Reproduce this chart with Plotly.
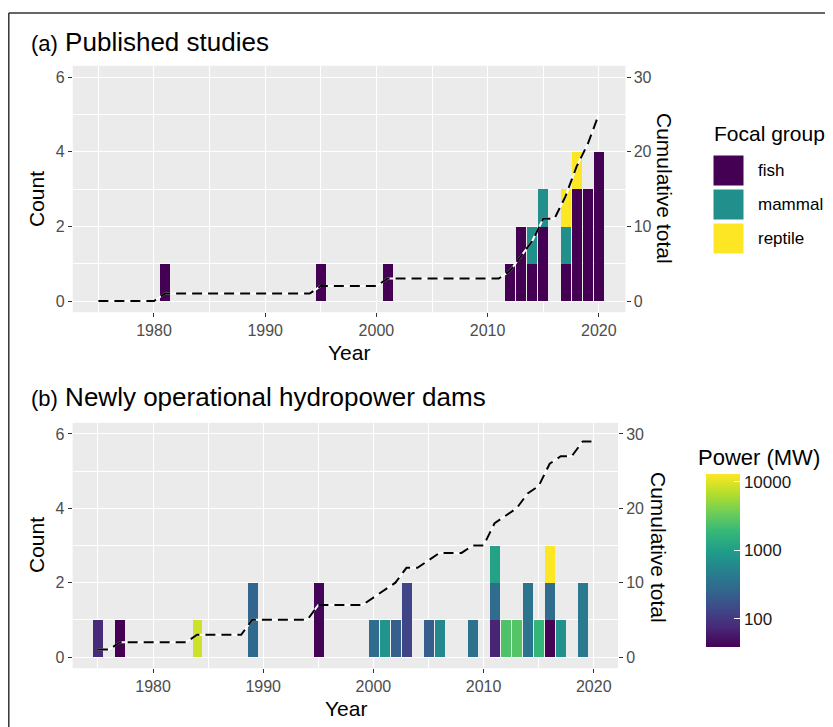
import numpy as np
import plotly.graph_objects as go

# ---------------- data ----------------
line_years = list(range(1975, 2021))

study_years = [1981, 1995, 2001, 2012, 2013, 2014, 2015, 2017, 2018, 2019, 2020]
fish =        [1,    1,    1,    1,    2,    1,    2,    1,    3,    3,    4]
mammal =      [0,    0,    0,    0,    0,    1,    1,    1,    0,    0,    0]
reptile =     [0,    0,    0,    0,    0,    0,    0,    1,    1,    0,    0]
group_names = ["fish", "mammal", "reptile"]
group_colors = ["#440154", "#21908C", "#FDE725"]

dam_years = [1975, 1977, 1984, 1989, 1989, 1995, 1995, 2000, 2001, 2002,
             2003, 2003, 2005, 2006, 2009, 2011, 2011, 2011, 2012, 2013,
             2014, 2014, 2015, 2016, 2016, 2016, 2017, 2019, 2019]
dam_power = [78, 39, 8370, 280, 260, 40, 42, 300, 800, 225,
             130, 130, 220, 600, 340, 70, 300, 1100, 2500, 2700,
             360, 360, 1800, 40, 300, 13000, 720, 420, 420]

x_ticks = [1980, 1990, 2000, 2010, 2020]
x_minor = [1975, 1985, 1995, 2005, 2015]
count_ticks = [0, 2, 4, 6]
cum_ticks = [0, 10, 20, 30]
power_ticks = [100, 1000, 10000]

# ---------------- geometry helpers ----------------
W, H = 833, 727
OFF = 8  # page offset of the figure inside the browser window
def px(x):
    return (x - OFF) / W
def py(y):
    return 1 - (y - OFF) / H

FONT = "Liberation Sans, Arial, sans-serif"
TICKC = "#4D4D4D"

fig = go.Figure()

# ---------------- panel a ----------------
totals_a = dict()
for y, f, m, r in zip(study_years, fish, mammal, reptile):
    totals_a[y] = f + m + r
cum_a = np.cumsum([totals_a.get(y, 0) for y in line_years])

for name, vals, col in zip(group_names, [fish, mammal, reptile], group_colors):
    fig.add_trace(go.Bar(x=study_years, y=vals, name=name, width=0.9,
                         marker=dict(color=col, line=dict(width=0)),
                         xaxis="x", yaxis="y", showlegend=False))

fig.add_trace(go.Scatter(x=line_years, y=cum_a, mode="lines",
                         line=dict(color="white", width=2),
                         xaxis="x", yaxis="y2", showlegend=False, hoverinfo="skip"))
fig.add_trace(go.Scatter(x=line_years, y=cum_a, mode="lines",
                         line=dict(color="black", width=2, dash="10px,6px"),
                         xaxis="x", yaxis="y2", showlegend=False))

# ---------------- panel b ----------------
logp = np.log10(dam_power)
cmin, cmax = float(logp.min()), float(logp.max())
by_year = {}
for y, p in zip(dam_years, dam_power):
    by_year.setdefault(y, []).append(p)
max_layers = max(len(v) for v in by_year.values())
for k in range(max_layers):
    xs, cs = [], []
    for y in sorted(by_year):
        if len(by_year[y]) > k:
            xs.append(y)
            cs.append(np.log10(by_year[y][k]))
    fig.add_trace(go.Bar(
        x=xs, y=[1] * len(xs), width=0.9, xaxis="x2", yaxis="y3", showlegend=False,
        marker=dict(color=cs, colorscale="Viridis", cmin=cmin, cmax=cmax,
                    line=dict(width=0),
                    showscale=(k == 0),
                    colorbar=dict(
                        x=px(706), xanchor="left", y=py(560.5), yanchor="middle",
                        lenmode="pixels", len=173, thickness=34, thicknessmode="pixels",
                        outlinewidth=0, xpad=0, ypad=0,
                        tickvals=list(np.log10(power_ticks)),
                        ticktext=[str(t) for t in power_ticks],
                        ticks="inside", ticklen=6, tickcolor="white", tickwidth=1,
                        tickfont=dict(family=FONT, size=17, color="#1A1A1A"),
                    ))))

cum_b = np.cumsum([len(by_year.get(y, [])) for y in line_years])
fig.add_trace(go.Scatter(x=line_years, y=cum_b, mode="lines",
                         line=dict(color="white", width=2),
                         xaxis="x2", yaxis="y4", showlegend=False, hoverinfo="skip"))
fig.add_trace(go.Scatter(x=line_years, y=cum_b, mode="lines",
                         line=dict(color="black", width=2, dash="10px,6px"),
                         xaxis="x2", yaxis="y4", showlegend=False))

# ---------------- axes ----------------
def xaxis(domain, anchor, right):
    return dict(domain=domain, anchor=anchor, range=[1972.7, right],
                tickvals=x_ticks, ticks="outside", ticklen=4, tickwidth=1, tickcolor="#333333",
                tickfont=dict(family=FONT, size=16, color=TICKC),
                showgrid=True, gridcolor="white", gridwidth=1.3, zeroline=False, showline=False,
                minor=dict(tickvals=x_minor, showgrid=True, gridcolor="white", gridwidth=0.6, ticks=""),
                automargin=False, fixedrange=True)

def yaxis(domain, anchor):
    return dict(domain=domain, anchor=anchor, range=[-0.3, 6.3], tickvals=count_ticks,
                ticks="outside", ticklen=4, tickwidth=1, tickcolor="#333333",
                tickfont=dict(family=FONT, size=16, color=TICKC),
                showgrid=True, gridcolor="white", gridwidth=1.3, zeroline=False, showline=False,
                minor=dict(tickvals=[1, 3, 5], showgrid=True, gridcolor="white", gridwidth=0.6, ticks=""),
                automargin=False, fixedrange=True)

def yaxis_right(overlay, anchor):
    return dict(overlaying=overlay, anchor=anchor, side="right", range=[-1.5, 31.5],
                tickvals=cum_ticks, ticks="outside", ticklen=4, tickwidth=1, tickcolor="#333333",
                tickfont=dict(family=FONT, size=16, color=TICKC),
                showgrid=False, zeroline=False, showline=False, automargin=False, fixedrange=True)

fig.update_layout(
    width=W, height=H, margin=dict(l=0, r=0, t=0, b=0),
    paper_bgcolor="white", plot_bgcolor="#EBEBEB",
    barmode="stack", bargap=0,
    font=dict(family=FONT, color="black"),
    xaxis=xaxis([px(72.8), px(625.5)], "y", 2022.4),
    yaxis=yaxis([py(312.2), py(65.8)], "x"),
    yaxis2=yaxis_right("y", "x"),
    xaxis2=xaxis([px(72.6), px(618.0)], "y3", 2022.2),
    yaxis3=yaxis([py(668.2), py(422.8)], "x2"),
    yaxis4=yaxis_right("y3", "x2"),
)

# ---------------- text ----------------
ann = []
def text(t, x, y, size, angle=0, xanchor="center", color="black"):
    ann.append(dict(text=t, x=px(x), y=py(y), xref="paper", yref="paper",
                    showarrow=False, textangle=angle, xanchor=xanchor, yanchor="middle",
                    font=dict(family=FONT, size=size, color=color)))

text("<span style='font-size:22px'>(a)</span> Published studies", 29, 42, 26, xanchor="left")
text("<span style='font-size:22px'>(b)</span> Newly operational hydropower dams", 29, 397, 26, xanchor="left")
text("Count", 36, 199, 21, angle=-90)
text("Count", 36, 545, 21, angle=-90)
text("Year", 349, 352, 21)
text("Year", 346, 708, 21)
text("Cumulative total", 664, 188, 21, angle=90)
text("Cumulative total", 659, 547, 21, angle=90)
text("Focal group", 712, 133, 21, xanchor="left")
text("Power (MW)", 696, 458, 22, xanchor="left")

shapes = []
key_tops = [155, 189, 223]
for name, col, top in zip(group_names, group_colors, key_tops):
    shapes.append(dict(type="rect", xref="paper", yref="paper",
                       x0=px(713), x1=px(744), y0=py(top + 31), y1=py(top),
                       fillcolor=col, line=dict(color="white", width=1)))
    text(name, 756, top + 15.5, 17, xanchor="left")

# frame
shapes.append(dict(type="line", xref="paper", yref="paper", x0=px(8.8), x1=1.0,
                   y0=py(13), y1=py(13), line=dict(color="#333333", width=1.5)))
shapes.append(dict(type="line", xref="paper", yref="paper", x0=px(8.8), x1=px(8.8),
                   y0=py(13), y1=0, line=dict(color="#333333", width=1.5)))

fig.update_layout(annotations=ann, shapes=shapes)

fig.write_html("out.html")
